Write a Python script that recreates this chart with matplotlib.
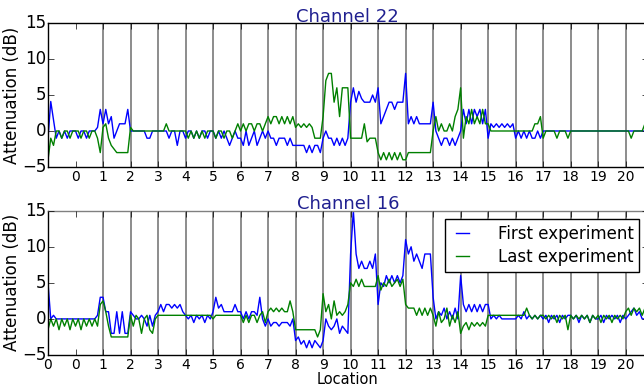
import matplotlib
matplotlib.use("Agg")
import matplotlib.pyplot as plt
import numpy as np

plt.style.use("classic")

# attenuation samples, one row per location (10 samples each)
ch22_first = [
    -1, 4.1, 1.5, -1, 0, -1, 0, -1, 0, 0,
    0, -1, 0, 0, -1, 0, 0, 0, 0.5, 3,
    1, 3, 1, 2, -1, 0, 1, 1, 1, 3,
    0, 0, 0, 0, 0, 0, -1, -1, 0, 0,
    0, 0, 0, 0, -1, 0, 0, -2, 0, 0,
    -1, 0, 0, -1, 0, -1, 0, 0, -1, 0,
    0, -1, 0, -1, 0, -1, -2, -1, 0, -1,
    -1, -2, 0, -2, -1, 0, -2, -1, 0, -1,
    0, -1, -1, -2, -1, -1, -1, -2, -1, -2,
    -2, -2, -2, -2, -3, -2, -3, -2, -2, -3,
    -1, 0, -1, -1, -2, -1, -2, -1, -2, -1,
    4, 6, 4, 5.5, 4.5, 4, 4, 4, 5, 4,
    6, 1, 2, 3, 4, 4, 3, 4, 4, 4,
    8, 1, 2, 1, 2, 1, 1, 1, 1, 1,
    4, 0, -1, -2, -1, -1, -2, -1, -2, -1,
    0, 3, 1, 3, 1, 3, 2, 3, 1, 3,
    -1, 1, 0.5, 1, 0.5, 1, 0.5, 1, 0.5, 1,
    -1, 0, -1, 0, -1, 0, -1, -1, 0, -1,
    0, 0, 0, 0, 0, 0, 0, 0, 0, 0,
    0, 0, 0, 0, 0, 0, 0, 0, 0, 0,
    0, 0, 0, 0, 0, 0, 0, 0, 0, 0,
    0, 0, 0, 0, 0, 0, 0, 0,
]
ch22_last = [
    -4, -1, -2, 0, 0, -1, 0, 0, -1, 0,
    0, 0, -1, 0, 0, -1, 0, 0, -1, -3,
    0.5, 1, -1, -2, -2.5, -3, -3, -3, -3, -3,
    0.5, 0, 0, 0, 0, 0, 0, 0, 0, 0,
    0, 0, 0, 1, 0, 0, 0, 0, 0, 0,
    0, -1, 0, -1, 0, -1, 0, -1, 0, 0,
    0, -1, 0, 0, -1, 0, 0, -1, 0, 1,
    0, 1, 0, 1, 1, 0, 1, 1, 0, 1,
    2, 1, 2, 2, 1, 2, 1, 2, 1, 2,
    0.5, 1, 0.5, 1, 0.5, 1, 0.5, -1, -1, -1,
    2, 7, 8, 8, 4, 6, 2, 6, 6, 6,
    -1, -1, -1, -1, -1, 1, -1.5, -1, -1, -1,
    -3, -4, -3, -4, -3, -4, -3, -4, -3, -4,
    -4, -3, -3, -3, -3, -3, -3, -3, -3, -3,
    0, 2, 0, 1, 0, 0, 1, 0, 2, 3,
    6, -1, 2, 1, 3, 1, 2, 1, 3, 1,
    1, 0, 0, 0, 0, 0, 0, 0, 0, 0,
    0, 0, 0, 0, 0, 0, 0, 1, 1, 2,
    -1, 0, 0, 0, 0, -1, 0, 0, 0, -1,
    0, 0, 0, 0, 0, 0, 0, 0, 0, 0,
    0, 0, 0, 0, 0, 0, 0, 0, 0, 0,
    0, 0, -1, 0, 0, 0, 0, 1,
]
ch16_first = [
    5, 0, 0.5, 0, 0, 0, 0, 0, 0, 0,
    0, 0, 0, 0, 0, 0, 0, 0, 0.5, 3,
    3, 1, 1, -2, -2, 1, -2, 1, -2, -2,
    1, 0.5, 0, 0, 0.5, 0, -1, 0.5, -1, 0.5,
    1, 2, 1, 2, 2, 1.5, 2, 1.5, 2, 1,
    0.5, 0, 0.5, -0.5, 0.5, 0, 0.5, -0.5, 0.5, 0,
    1, 3, 1.5, 2, 1, 1, 1, 1, 2, 1,
    1, 0, 1, 0, 1, 1, 0.5, 3, 0, -1,
    0, -1, -0.5, -0.5, -1, -0.5, -0.5, -0.5, -1, 0,
    -3, -2.5, -3.5, -3, -4, -3, -4, -3, -3.5, -4,
    -3, 0, -1, -1.5, -1, 0, -2, -1, -1.5, -2,
    9, 15, 9, 7, 8, 7, 7, 8, 7, 9,
    2, 5, 4.5, 6, 5, 6, 5, 6, 5, 6,
    11, 9, 10, 8, 9, 8, 7, 9, 9, 9,
    3, 0, 1, 0.5, 1.5, 0, 1, 0, 1.5, 0,
    6, 2, 1, 2, 1, 2, 1, 2, 1, 2,
    2, 0, 0.5, 0, 0.5, 0, 0, 0, 0, 0,
    0, 0.5, 0, 1, 0, 0.5, 0, 0.5, 0, 0.5,
    0, 0.5, -0.5, 0.5, 0, 0.5, -0.5, 0.5, 0, 0.5,
    0.5, 0, 0.5, -0.5, 0.5, 0, 0.5, -0.5, 0.5, 0,
    0, 0.5, -0.5, 0.5, 0, 0.5, 0, 0.5, -0.5, 0.5,
    0, 0.5, 1, 1.5, 0.5, 1, 0, 0,
]
ch16_last = [
    -1.5, 0, -1, 0, -1.5, 0, -1, 0, -1.5, 0,
    -1, 0, -1.5, 0, -1, 0, -1, 0, -1, 2,
    2.5, 1, -1, -2.5, -2.5, -2.5, -2.5, -2.5, -2.5, -2.5,
    0.5, -1, 0.5, 0, -2, 0, 0.5, -1.5, -2, 0,
    0.5, 0.5, 0.5, 0.5, 0.5, 0.5, 0.5, 0.5, 0.5, 0.5,
    0.5, 0.5, 0.5, 0.5, 0.5, 0.5, 0.5, 0.5, 0.5, 0.5,
    0, 0.5, 0.5, 0.5, 0.5, 0.5, 0.5, 0.5, 0.5, 0.5,
    0.5, -0.5, 0.5, -0.5, 0.5, 0.5, -0.5, 0.5, 1, -0.5,
    1, 1.5, 1, 1.5, 1, 1.5, 1, 1, 2.5, 1,
    -1.5, -1.5, -1.5, -1.5, -1.5, -1.5, -1.5, -1.5, -2.5, -1.5,
    3.5, 1, 2, 0, 2.5, 0.5, 1, 0.5, 1, 2,
    5, 4.5, 5.5, 4.5, 5.5, 4.5, 4.5, 4.5, 4.5, 4.5,
    6, 4, 5, 4.5, 5.5, 4.5, 5, 5.5, 4.5, 5.5,
    2, 1.5, 1.5, 1.5, 0.5, 1.5, 0.5, 1.5, 0.5, 1.5,
    0.5, -1, 1, -0.5, 0, 1.5, -1, 0.5, -0.5, 1,
    -2, -1, -0.5, -1.5, -0.5, -1, -0.5, -1, -0.5, -1,
    0.5, 0.5, 0.5, 0.5, 0.5, 0.5, 0.5, 0.5, 0.5, 0.5,
    0.5, 0.5, 0.5, 0.5, 1.5, 0.5, 0, 0.5, 0, 0.5,
    0.5, 0, 0.5, 0, 0.5, -0.5, 0.5, 0, 0.5, -1.5,
    0.5, 0, 0.5, 0, 0.5, 0, 0.5, -0.5, 0.5, 0,
    0.5, -0.5, 0.5, 0, 0.5, -0.5, 0.5, 0, 0.5, 0,
    1, 1.5, 0.5, 1.5, 1, 1.5, 0.5, 1.5,
]

location = np.arange(len(ch22_first)) * 0.1 - 1.0
boundaries = list(range(1, 21))
top_ticks = list(range(0, 21))
top_labels = [str(i) for i in top_ticks]
bottom_ticks = list(range(-1, 21))
bottom_labels = ["0"] + [str(i) for i in range(0, 21)]

fig = plt.figure(figsize=(6.44, 3.91), facecolor="white")
ax1 = fig.add_axes([48 / 644., 0.5729, 0.9312, 0.3683])
ax2 = fig.add_axes([48 / 644., 0.0921, 0.9312, 0.369])

panels = [(ax1, ch22_first, ch22_last, "Channel 22", top_ticks, top_labels),
          (ax2, ch16_first, ch16_last, "Channel 16", bottom_ticks, bottom_labels)]

for ax, first, last, title, ticks, labels in panels:
    for b in boundaries:
        ax.axvline(b, color="0.55", lw=1.4, zorder=1)
    ax.plot(location, first, color="b", lw=1.0, label="First experiment", zorder=2)
    ax.plot(location, last, color="g", lw=1.0, label="Last experiment", zorder=2)
    ax.set_xlim(-1, 20.8)
    ax.set_ylim(-5, 15)
    ax.set_yticks([-5, 0, 5, 10, 15])
    ax.set_xticks(ticks)
    ax.set_xticklabels(labels)
    ax.tick_params(axis="x", labelsize=10, pad=2)
    ax.tick_params(axis="y", labelsize=12, pad=1)
    ax.set_ylabel("Attenuation (dB)", fontsize=12, labelpad=1)
    ax.set_title(title, fontsize=13, color="#202090", pad=1)

ax2.spines["top"].set_color("0.5")
ax2.set_xlabel("Location", fontsize=10.5, labelpad=0)
ax2.legend(loc="upper right", fontsize=12, handlelength=1.4, handletextpad=1.4,
           labelspacing=0.3, borderpad=0.35)

fig.savefig("out.png", dpi=100, facecolor="white")
